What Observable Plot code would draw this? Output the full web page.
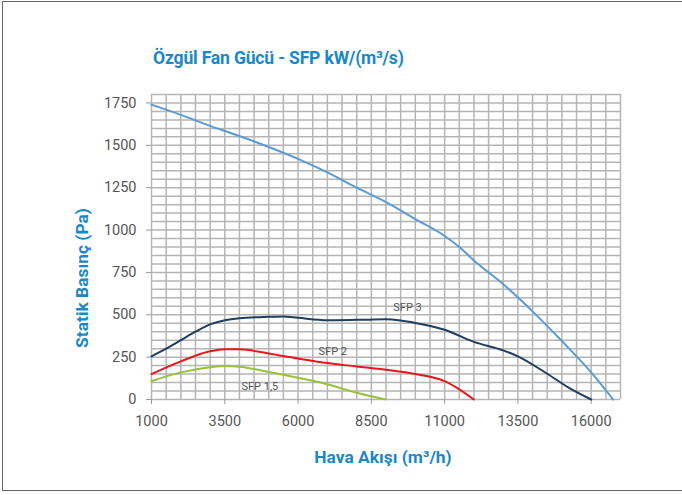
<!DOCTYPE html>
<html><head><meta charset="utf-8">
<script src="https://cdn.jsdelivr.net/npm/d3@7"></script>
<script src="https://cdn.jsdelivr.net/npm/@observablehq/plot@0.6"></script>
<style>
body{margin:0;background:#fff;font-family:Roboto,"DejaVu Sans",sans-serif;}
#wrap{position:relative;width:682px;height:495px;overflow:hidden;}
#frame{position:absolute;left:2px;top:1px;width:720px;height:490px;border:1.5px solid #666;box-sizing:border-box;}
#title{position:absolute;left:153px;top:48px;font:700 17.6px Roboto,sans-serif;color:#1a87c8;letter-spacing:-0.2px;white-space:nowrap;}
#chart{position:absolute;left:0;top:75px;}
</style></head>
<body><div id="wrap"><div id="frame"></div><div id="title">Özgül Fan Gücü - SFP kW/(m³/s)</div><div id="chart"></div></div>
<script>
const xTicks = [1000, 3500, 6000, 8500, 11000, 13500, 16000];
const yTicks = [0, 250, 500, 750, 1000, 1250, 1500, 1750];
const fanX = [1000,2000,3000,4000,5000,6000,7000,8000,9000,10000,11000,11500,12000,13000,14000,15000,16000,16750];
const fanY = [1740,1680,1615,1555,1490,1420,1340,1250,1165,1065,965,900,820,680,520,345,160,0];
const sfp3X = [1000,1500,2000,2500,3000,3500,4000,5000,5500,6000,7000,8000,9000,9500,10000,11000,12000,13000,13500,14500,15200,16000];
const sfp3Y = [255,300,350,400,443,468,480,488,490,482,468,470,473,466,452,412,340,290,255,152,73,0];
const sfp2X = [1000,2000,3000,3500,4000,5000,6000,7000,8000,9000,10000,11000,11500,12000];
const sfp2Y = [150,225,285,297,296,272,242,215,195,175,150,108,60,0];
const sfp15X = [1000,2000,3000,3500,4000,5000,6000,7000,8000,9000];
const sfp15Y = [108,160,190,197,193,162,128,90,40,0];
const labels = ["SFP 3","SFP 2","SFP 1,5"];
const labelX = [9250, 6700, 4070];
const labelY = [545, 286, 79];

const toPts = (xs, ys) => xs.map((x,i)=>({x, y: ys[i]}));
const series = [
  {data: toPts(fanX, fanY), color: "#5b9bd5"},
  {data: toPts(sfp3X, sfp3Y), color: "#1f3d5e"},
  {data: toPts(sfp2X, sfp2Y), color: "#e8161d"},
  {data: toPts(sfp15X, sfp15Y), color: "#98c13d"}
];
const labelData = labels.map((t,i)=>({t, x: labelX[i], y: labelY[i]}));
const gridStroke = "#b5b5b5";

const plot = Plot.plot({
  width: 682, height: 420,
  marginLeft: 151, marginRight: 62, marginTop: 19, marginBottom: 96,
  x: {domain: [1000, 17000]},
  y: {domain: [0, 1800]},
  style: {fontFamily: "Roboto, sans-serif", background: "transparent"},
  marks: [
    Plot.ruleX(d3.range(1000, 17001, 500), {stroke: gridStroke, strokeWidth: 1.5}),
    Plot.ruleY(d3.range(0, 1801, 50), {stroke: gridStroke, strokeWidth: 1.5}),
    Plot.axisX(xTicks, {tickSize: 5, tickPadding: 11, stroke: "#9a9a9a", fontSize: 14.5, fill: "#555", label: null, tickFormat: d => String(d)}),
    Plot.axisY(yTicks, {tickSize: 5, tickPadding: 10, stroke: "#9a9a9a", fontSize: 14.5, fill: "#555", label: null, tickFormat: d => String(d)}),
    ...series.map(s => Plot.line(s.data, {x: "x", y: "y", stroke: s.color, strokeWidth: 2, curve: "monotone-x"})),
    Plot.text(labelData, {x: "x", y: "y", text: "t", textAnchor: "start", fontSize: 11, fill: "#555"}),
    Plot.text(["Hava Akışı (m³/h)"], {frameAnchor: "bottom", textAnchor: "middle", dx: -3, dy: 63, fontSize: 17.4, fontWeight: "bold", fill: "#1a87c8"}),
    Plot.text(["Statik Basınç (Pa)"], {frameAnchor: "left", textAnchor: "middle", dx: -69, dy: 31, rotate: -90, fontSize: 17.4, fontWeight: "bold", fill: "#1a87c8"})
  ]
});
document.getElementById("chart").appendChild(plot);
</script></body></html>
